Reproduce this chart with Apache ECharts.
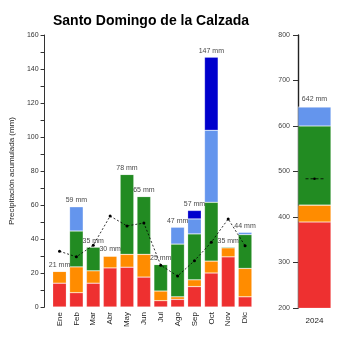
<!DOCTYPE html>
<html><head><meta charset="utf-8">
<script src="https://cdn.jsdelivr.net/npm/echarts@6/dist/echarts.min.js"></script>
<style>html,body{margin:0;padding:0;background:#fff}#c{width:350px;height:350px}</style>
</head><body><div id="c"></div>
<script>
const months = ['Ene','Feb','Mar','Abr','May','Jun','Jul','Ago','Sep','Oct','Nov','Dic'];
const red    = [14, 8.4, 14, 23, 23.4, 17.6, 3.7, 4.5, 12, 20, 29.5, 6];
const orange = [7, 15.2, 7.3, 7, 7.6, 13.4, 5.7, 1.5, 4, 7, 5.3, 16.7];
const green  = [0, 21.1, 14, 0, 47, 34, 15.6, 31, 27, 34.6, 0.6, 19.9];
const ltblue = [0, 14.3, 0, 0, 0, 0, 0, 10, 8.8, 42.4, 0, 1.4];
const dkblue = [0, 0, 0, 0, 0, 0, 0, 0, 5, 43, 0, 0];
const median = [32.8, 29.5, 36.3, 53.5, 47.7, 49.4, 24.6, 18.2, 27.2, 38.1, 51.8, 36];
const totals = [21, 59, 35, 30, 78, 65, 25, 47, 57, 147, 35, 44];

const years = ['2024'];
const yRed = [389], yOrange = [37], yGreen = [174], yLtblue = [42], yDkblue = [0];
const yTotal = [642], yMedian = [484];

const C = {red:'#EE3030', orange:'#FF8C00', green:'#228B22', ltblue:'#6495ED', dkblue:'#0000CD'};
const font = 'Liberation Sans, Arial, sans-serif';

function stackBar(name, data, color, xi, stack){
  return {type:'bar', name, data, stack, xAxisIndex:xi, yAxisIndex:xi,
    itemStyle:{color, borderColor:'rgba(255,255,255,0.35)', borderWidth:0.6},
    barCategoryGap:'19%', barWidth: xi===1 ? '100%' : undefined, silent:true};
}

const chart = echarts.init(document.getElementById('c'), null, {renderer:'canvas'});
chart.setOption({
  animation:false,
  title:{text:'Santo Domingo de la Calzada', left:48, top:9,
    textStyle:{fontFamily:font, fontSize:14, fontWeight:'bold', color:'#000'}},
  grid:[
    {left:41, top:35, width:212.5, height:272},
    {left:298, top:35, width:33, height:273}
  ],
  xAxis:[
    {type:'category', gridIndex:0, data:months, boundaryGap:true,
      axisLine:{show:false}, axisTick:{show:false},
      axisLabel:{rotate:90, fontSize:8, color:'#222', fontFamily:font, margin:5}},
    {type:'category', gridIndex:1, data:years,
      axisLine:{show:false}, axisTick:{show:false},
      axisLabel:{fontSize:8, color:'#222', fontFamily:font, margin:9}}
  ],
  yAxis:[
    {type:'value', gridIndex:0, min:0, max:160, interval:10, offset:6.5,
      name:'Precipitación acumulada (mm)', nameLocation:'middle', nameGap:25, nameRotate:90,
      nameTextStyle:{fontSize:8, color:'#222', fontFamily:font},
      axisLine:{show:true, lineStyle:{color:'#333', width:1}},
      axisTick:{show:true, length:4, lineStyle:{color:'#333'}},
      splitLine:{show:false},
      axisLabel:{fontSize:7, color:'#333', fontFamily:font, margin:6,
        formatter:v => (v % 20 === 0 ? String(v) : '')}},
    {type:'value', gridIndex:1, min:200, max:800, interval:100,
      axisLine:{show:true, lineStyle:{color:'#222', width:1.4}},
      axisTick:{show:true, length:5, lineStyle:{color:'#333'}},
      splitLine:{show:false},
      axisLabel:{fontSize:7, color:'#444', fontFamily:font, margin:8}}
  ],
  series:[
    stackBar('r', red, C.red, 0, 'm'),
    stackBar('o', orange, C.orange, 0, 'm'),
    stackBar('g', green, C.green, 0, 'm'),
    stackBar('lb', ltblue, C.ltblue, 0, 'm'),
    stackBar('db', dkblue, C.dkblue, 0, 'm'),
    {type:'scatter', xAxisIndex:0, yAxisIndex:0, data:totals, symbolSize:0, silent:true,
      label:{show:true, position:'top', distance:3, formatter:p => p.value + ' mm',
        fontSize:7, color:'#111', fontFamily:font}},
    {type:'line', xAxisIndex:0, yAxisIndex:0, data:median, symbol:'circle', symbolSize:3,
      itemStyle:{color:'#000'}, lineStyle:{color:'#000', width:0.8, type:[2,2]}, silent:true, z:5},
    stackBar('r2', yRed, C.red, 1, 'y'),
    stackBar('o2', yOrange, C.orange, 1, 'y'),
    stackBar('g2', yGreen, C.green, 1, 'y'),
    stackBar('lb2', yLtblue, C.ltblue, 1, 'y'),
    stackBar('db2', yDkblue, C.dkblue, 1, 'y'),
    {type:'scatter', xAxisIndex:1, yAxisIndex:1, data:yTotal, symbolSize:0, silent:true,
      label:{show:true, position:'top', distance:4, formatter:p => p.value + ' mm',
        fontSize:7, color:'#111', fontFamily:font}},
    {type:'custom', xAxisIndex:1, yAxisIndex:1, data:yMedian.map((v,i)=>[i,v]), silent:true, z:5,
      renderItem:(params, api) => {
        const p = api.coord([api.value(0), api.value(1)]);
        return {type:'group', children:[
          {type:'line', shape:{x1:p[0]-9, y1:p[1], x2:p[0]+9, y2:p[1]},
            style:{stroke:'#000', lineWidth:0.8, lineDash:[3,2]}},
          {type:'circle', shape:{cx:p[0], cy:p[1], r:1.3}, style:{fill:'#000'}}
        ]};
      }}
  ]
});
</script></body></html>
